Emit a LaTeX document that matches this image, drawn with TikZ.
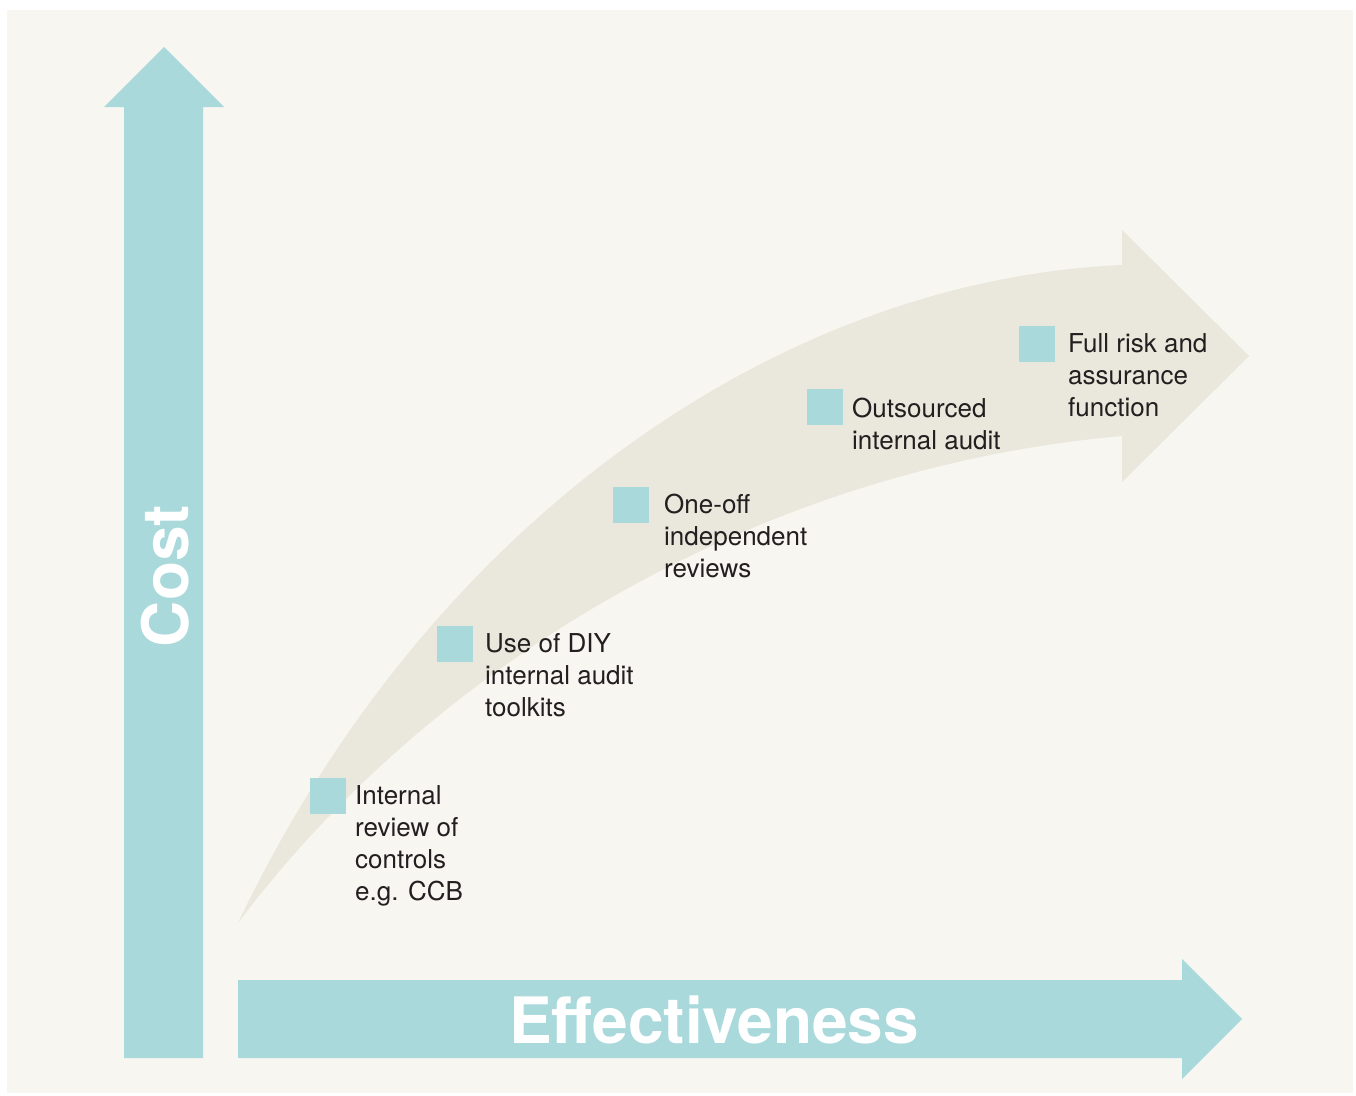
\documentclass[tikz,border=0pt]{standalone}
\usepackage{fontspec}
\setmainfont{TeX Gyre Heros}
\definecolor{tealc}{RGB}{169,217,219}
\definecolor{beigec}{RGB}{234,232,220}
\definecolor{bgc}{RGB}{247,246,241}
\definecolor{textc}{RGB}{35,31,32}
\begin{document}
\begin{tikzpicture}[x=1pt,y=-1pt,
  tealshape/.style={fill=tealc, draw=none},
  curveshape/.style={fill=beigec, draw=none},
  lbl/.style={anchor=base west, inner sep=0pt, text=textc, font=\fontsize{26}{32}\selectfont},
  axislbl/.style={inner sep=0pt, text=white, font=\fontsize{64}{70}\selectfont\bfseries}]
\useasboundingbox (0,0) rectangle (1356,1095);
\fill[white] (0,0) rectangle (1356,1095);
\fill[bgc] (7,10) rectangle (1353,1093);
% curved arrow
\fill[curveshape] (238,923) .. controls (430,520) and (780,280) .. (1122,265)
  -- (1122,230) -- (1249,356) -- (1122,482) -- (1122,436)
  .. controls (740,470) and (420,680) .. (238,923) -- cycle;
% cost arrow
\fill[tealshape] (124,1058) -- (124,107) -- (104,107) -- (164,47) -- (224,107) -- (203,107) -- (203,1058) -- cycle;
% effectiveness arrow
\fill[tealshape] (238,980) -- (1182,980) -- (1182,959) -- (1242,1019) -- (1182,1079) -- (1182,1058) -- (238,1058) -- cycle;
\node[axislbl, rotate=90, anchor=base] (cost) at (188,576) {Cost};
\node[axislbl, anchor=base] (eff) at (714,1043) {Effectiveness};
% markers
\fill[tealshape] (310,778) rectangle ++(36,36);
\fill[tealshape] (437,626) rectangle ++(36,36);
\fill[tealshape] (613,487) rectangle ++(36,36);
\fill[tealshape] (807,389) rectangle ++(36,36);
\fill[tealshape] (1019,326) rectangle ++(36,36);
% labels
\node[lbl] (l1) at (355,804) {\begin{tabular}[t]{@{}l@{}}Internal\\review of\\controls\\e.g. CCB\end{tabular}};
\node[lbl] (l2) at (485,652) {\begin{tabular}[t]{@{}l@{}}Use of DIY\\internal audit\\toolkits\end{tabular}};
\node[lbl] (l3) at (664,513) {\begin{tabular}[t]{@{}l@{}}One-off\\independent\\reviews\end{tabular}};
\node[lbl] (l4) at (852,417) {\begin{tabular}[t]{@{}l@{}}Outsourced\\internal audit\end{tabular}};
\node[lbl] (l5) at (1068,352) {\begin{tabular}[t]{@{}l@{}}Full risk and\\assurance\\function\end{tabular}};
\end{tikzpicture}
\end{document}
